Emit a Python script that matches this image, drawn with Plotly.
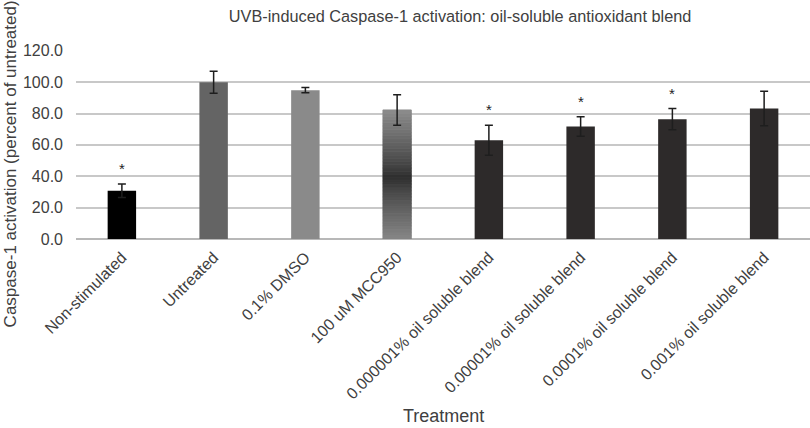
import plotly.graph_objects as go

categories = ["Non-stimulated", "Untreated", "0.1% DMSO", "100 uM MCC950",
              "0.000001% oil soluble blend", "0.00001% oil soluble blend",
              "0.0001% oil soluble blend", "0.001% oil soluble blend"]
values = [30.8, 100.0, 94.9, 82.3, 63.0, 71.7, 76.4, 83.2]
errors = [4.3, 7.0, 1.7, 9.7, 9.6, 6.2, 6.8, 11.0]
significant = [True, False, False, False, True, True, True, False]
y_ticks = [0, 20, 40, 60, 80, 100, 120]

colors = ["#000000", "#646464", "#8a8a8a", "rgba(0,0,0,0)",
          "#2d2a2a", "#2d2a2a", "#2d2a2a", "#2d2a2a"]

text_color = "#404040"
font_family = "Liberation Sans, Arial, sans-serif"

fig = go.Figure()

# gradient fill for the MCC950 bar, built from stacked segments
grad_idx = 3
n_seg = 40
h = values[grad_idx] / n_seg
center = 0.48
for k in range(n_seg):
    mid = (k + 0.5) / n_seg
    d = min(abs(mid - center) / 0.52, 1.0)
    t = d ** 0.8
    g = int(0x2c + (0x8c - 0x2c) * t)
    col = f"rgb({g},{g},{g})"
    fig.add_trace(go.Bar(
        x=[categories[grad_idx]], y=[h], base=[k * h],
        marker=dict(color=col, line=dict(width=0.8, color=col)),
        width=0.31, showlegend=False, hoverinfo="skip"))

fig.add_trace(go.Bar(
    x=categories, y=values,
    marker=dict(color=colors, line=dict(width=0)),
    width=0.31,
    error_y=dict(type="data", array=errors, visible=True,
                 color="#1e1e1e", thickness=1.5, width=4),
    showlegend=False))

for c, v, e, s in zip(categories, values, errors, significant):
    if s:
        fig.add_annotation(x=c, y=v + e, text="*", showarrow=False,
                           yanchor="bottom", yshift=5,
                           font=dict(size=15, color="#1e1e1e", family=font_family))

# axis titles as annotations for precise placement
fig.add_annotation(text="Caspase-1 activation (percent of untreated)",
                   xref="paper", yref="paper", x=-0.088, y=0.397,
                   xanchor="center", yanchor="middle", textangle=-90,
                   showarrow=False, font=dict(size=17, color=text_color, family=font_family))
fig.add_annotation(text="Treatment",
                   xref="paper", yref="paper", x=0.5, y=-0.935,
                   xanchor="center", yanchor="middle",
                   showarrow=False, font=dict(size=18, color=text_color, family=font_family))

fig.update_layout(
    width=810, height=428,
    margin=dict(l=76, r=0, t=50, b=189),
    paper_bgcolor="white", plot_bgcolor="white",
    barmode="overlay",
    title=dict(text="UVB-induced Caspase-1 activation: oil-soluble antioxidant blend",
               x=0.568, xanchor="center", y=0.963, yanchor="middle",
               font=dict(size=16.3, color=text_color, family=font_family)),
    font=dict(family=font_family, color=text_color),
    xaxis=dict(
        categoryorder="array", categoryarray=categories,
        tickangle=-45,
        tickfont=dict(size=16, color=text_color, family=font_family),
        showgrid=False, showline=False, zeroline=False, ticks="",
        ticklabelstandoff=5,
        automargin=False),
    yaxis=dict(
        range=[0, 120.5], tickvals=y_ticks, tickformat=".1f",
        tickfont=dict(size=16, color=text_color),
        gridcolor="#c8c8c8", gridwidth=1.5,
        zeroline=True, zerolinecolor="#b8b8b8", zerolinewidth=1.5,
        showline=False, ticks="", ticklabelstandoff=12,
        automargin=False),
)

fig.write_html("out.html", post_script="document.body.style.margin='0';",
               config={"displayModeBar": False})
